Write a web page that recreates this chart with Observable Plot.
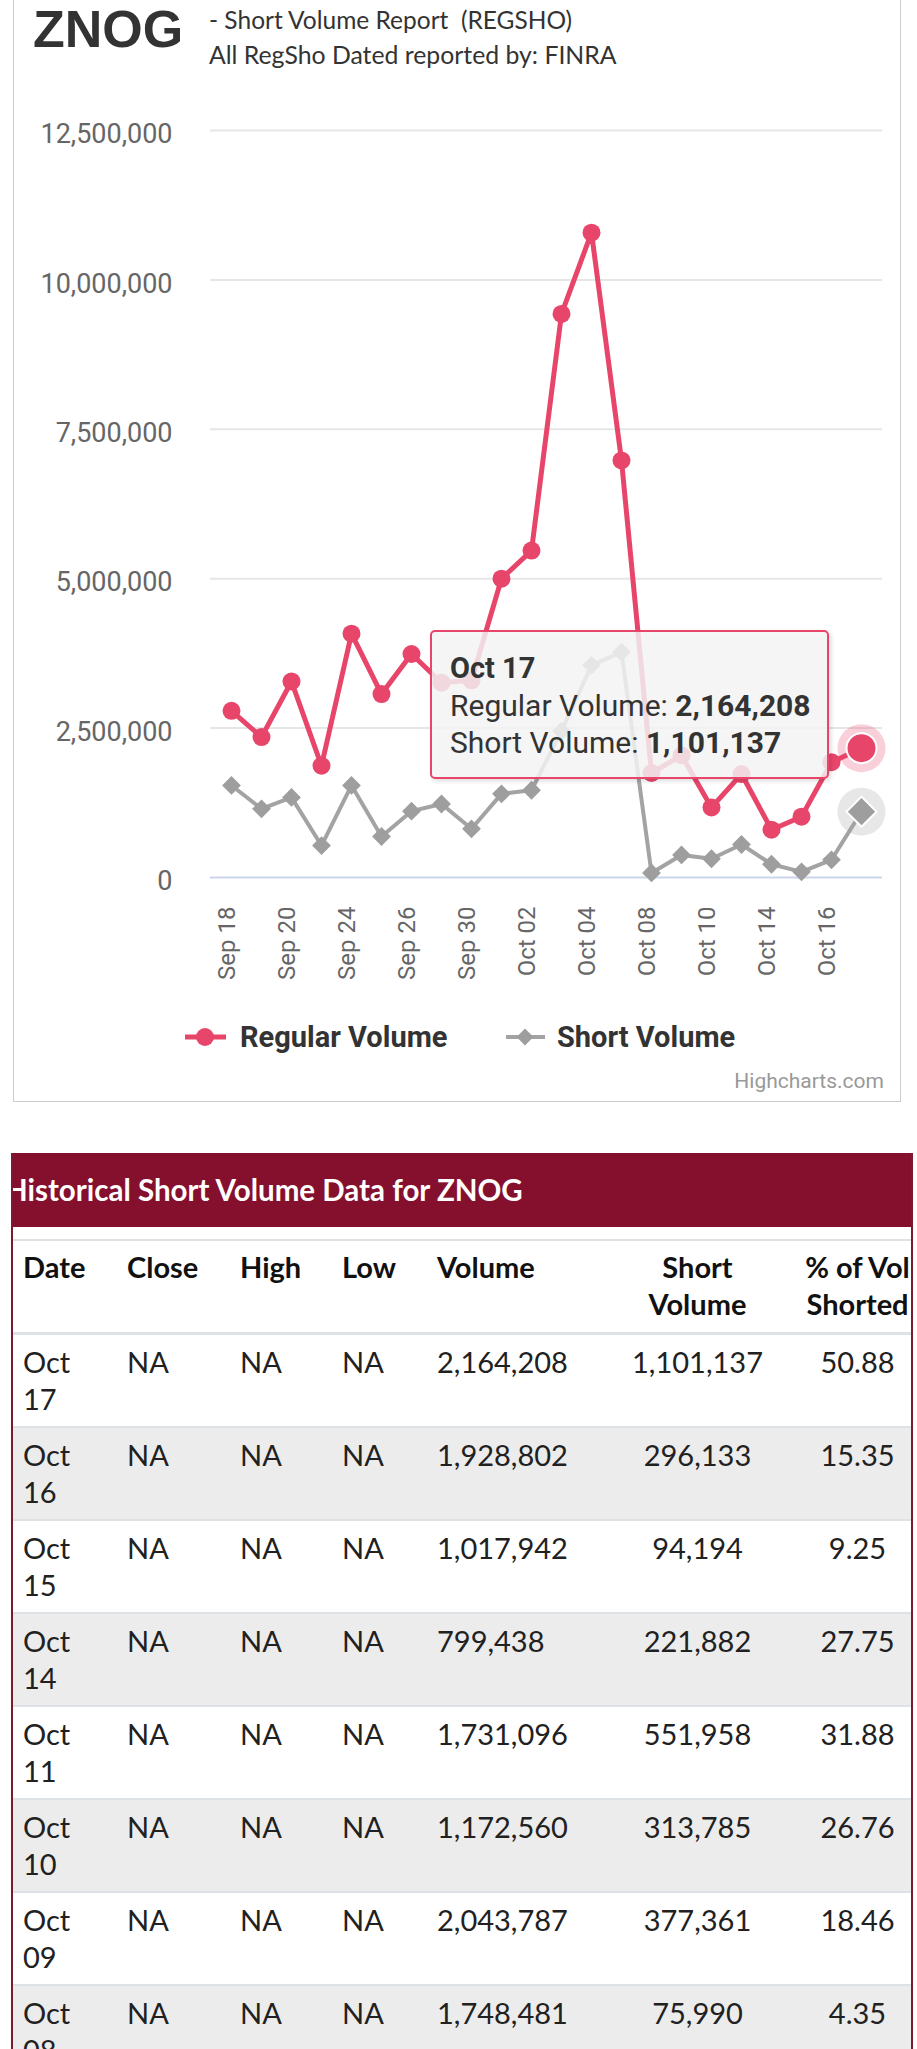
<!DOCTYPE html>
<html>
<head>
<meta charset="utf-8">
<script src="https://cdn.jsdelivr.net/npm/d3@7"></script>
<script src="https://cdn.jsdelivr.net/npm/@observablehq/plot@0.6"></script>
<style>
  html, body { margin: 0; padding: 0; background: #fff; }
  body { width: 917px; height: 2049px; position: relative; overflow: hidden; font-family: Roboto, sans-serif; }
  #chartbox { position: absolute; left: 13px; top: -10px; width: 888px; height: 1112px; border: 1.5px solid #cccccc; box-sizing: border-box; }
  #plot { position: absolute; left: 0; top: 100px; }
  #overlay { position: absolute; left: 0; top: 0; pointer-events: none; }
  #tablewrap { position: absolute; left: 11px; top: 1153px; width: 902px; height: 900px; overflow: hidden;
               border-left: 2px solid #7d1a31; border-right: 2px solid #7d1a31; box-sizing: border-box; }
  #tabletitle { height: 74px; background: #85102e; color: #fff; font-family: Lato, sans-serif; font-weight: 700;
                font-size: 29.5px; line-height: 74px; white-space: nowrap; text-indent: -8px; }
  table { border-collapse: separate; border-spacing: 0; table-layout: fixed; width: 927px; margin-top: 12px;
          font-family: Lato, sans-serif; font-size: 29px; line-height: 37px; color: #212121; }
  th { font-weight: 700; color: #111; text-align: left; vertical-align: top; padding: 7px 10px 10px 10px;
       border-top: 2px solid #dee2e6; border-bottom: 3px solid #dee2e6; white-space: nowrap; }
  td { vertical-align: top; padding: 8px 10px 9px 10px; border-bottom: 2px solid #dee2e6; white-space: nowrap; }
  .c { text-align: center; }
  tbody tr:nth-child(even) td { background: #ececec; }
</style>
</head>
<body>
<div id="chartbox"></div>
<div id="plot"></div>
<svg id="overlay" width="917" height="1110"></svg>
<div id="tablewrap">
  <div id="tabletitle"></div>
  <table id="tbl"></table>
</div>
<script>
// ---------- data ----------
const dates = ["Sep 18","Sep 19","Sep 20","Sep 23","Sep 24","Sep 25","Sep 26","Sep 27","Sep 30",
               "Oct 01","Oct 02","Oct 03","Oct 04","Oct 07","Oct 08","Oct 09","Oct 10","Oct 11",
               "Oct 14","Oct 15","Oct 16","Oct 17"];
const regularVolume = [2790000,2350000,3280000,1870000,4080000,3070000,3740000,3260000,3300000,
                       5000000,5470000,9430000,10790000,6980000,1748481,2043787,1172560,1731096,
                       799438,1017942,1928802,2164208];
const shortVolume = [1540000,1150000,1340000,535000,1540000,686000,1110000,1230000,815000,
                     1400000,1460000,2450000,3550000,3770000,75990,377361,313785,551958,
                     221882,94194,296133,1101137];
const yTicks = [0,2500000,5000000,7500000,10000000,12500000];
const xTickLabels = ["Sep 18","Sep 20","Sep 24","Sep 26","Sep 30","Oct 02","Oct 04","Oct 08","Oct 10","Oct 14","Oct 16"];
const seriesNames = ["Regular Volume","Short Volume"];

const tableTitle = "Historical Short Volume Data for ZNOG";
const tableHeaders = ["Date","Close","High","Low","Volume","Short Volume","% of Vol Shorted"];
const tableDates = ["Oct 17","Oct 16","Oct 15","Oct 14","Oct 11","Oct 10","Oct 09","Oct 08"];
const tableClose = ["NA","NA","NA","NA","NA","NA","NA","NA"];
const tableHigh = ["NA","NA","NA","NA","NA","NA","NA","NA"];
const tableLow = ["NA","NA","NA","NA","NA","NA","NA","NA"];
const tableVolume = [2164208,1928802,1017942,799438,1731096,1172560,2043787,1748481];
const tableShort = [1101137,296133,94194,221882,551958,313785,377361,75990];
const tablePct = ["50.88","15.35","9.25","27.75","31.88","26.76","18.46","4.35"];

const RED = "#e8456b", GREY = "#a3a3a3";

// ---------- chart ----------
const data = dates.map((d, i) => ({date: d, regular: regularVolume[i], short: shortVolume[i]}));
const last = data[data.length - 1];
const fmt = d3.format(",");

const chart = Plot.plot({
  width: 917, height: 900,
  marginLeft: 210, marginRight: 35, marginTop: 30, marginBottom: 123,
  style: {fontFamily: "Roboto, sans-serif", background: "transparent", overflow: "visible"},
  x: {type: "point", domain: dates, padding: 0.5, axis: null, label: null},
  y: {domain: [0, 12500000], axis: null, label: null},
  marks: [
    Plot.ruleY(yTicks.filter(d => d > 0), {y: d => d, stroke: "#e6e6e6", strokeWidth: 2}),
    Plot.ruleY([0], {stroke: "#ccd6eb", strokeWidth: 2}),
    Plot.axisY(yTicks, {tickSize: 0, tickPadding: 38, tickFormat: fmt, fontSize: 27, color: "#666", dy: 4, label: null}),
    Plot.axisX(xTickLabels, {tickSize: 0, tickRotate: -90, tickPadding: 29, fontSize: 24, color: "#666", dx: -4, label: null}),
    Plot.line(data, {x: "date", y: "regular", stroke: RED, strokeWidth: 5, strokeLinejoin: "round"}),
    Plot.dot(data.slice(0, -1), {x: "date", y: "regular", r: 9, fill: RED}),
    Plot.line(data, {x: "date", y: "short", stroke: GREY, strokeWidth: 4, strokeLinejoin: "round"}),
    Plot.dot(data.slice(0, -1), {x: "date", y: "short", symbol: "square", rotate: 45, r: 7.5, fill: "#9e9e9e"}),
    // hovered last point
    Plot.dot([last], {x: "date", y: "regular", r: 24, fill: RED, fillOpacity: 0.25}),
    Plot.dot([last], {x: "date", y: "regular", r: 15, fill: RED, stroke: "#fff", strokeWidth: 2}),
    Plot.dot([last], {x: "date", y: "short", r: 24, fill: "#a0a0a0", fillOpacity: 0.25}),
    Plot.dot([last], {x: "date", y: "short", symbol: "square", rotate: 45, r: 12, fill: "#9e9e9e", stroke: "#fff", strokeWidth: 2})
  ]
});
document.getElementById("plot").appendChild(chart);

// ---------- overlay texts: title, legend, credits, tooltip ----------
const svg = d3.select("#overlay");
svg.append("text").attr("x", 33).attr("y", 47).attr("font-family", "'Liberation Sans', Arial, sans-serif")
  .attr("font-weight", 700).attr("font-size", 52).attr("fill", "#333").text("ZNOG");
svg.append("text").attr("x", 209).attr("y", 29).attr("font-family", "Lato, sans-serif").attr("font-size", 24.5)
  .attr("fill", "#333").style("white-space", "pre").text("- Short Volume Report  (REGSHO)");
svg.append("text").attr("x", 209).attr("y", 64).attr("font-family", "Lato, sans-serif").attr("font-size", 24.8)
  .attr("fill", "#333").text("All RegSho Dated reported by: FINRA");

// legend
const lg = svg.append("g").attr("font-family", "Roboto, sans-serif").attr("font-weight", 700).attr("font-size", 29).attr("fill", "#333");
lg.append("line").attr("x1", 185).attr("x2", 226).attr("y1", 1037).attr("y2", 1037).attr("stroke", RED).attr("stroke-width", 5);
lg.append("circle").attr("cx", 205).attr("cy", 1037).attr("r", 9).attr("fill", RED);
lg.append("text").attr("x", 240).attr("y", 1047).text(seriesNames[0]);
lg.append("line").attr("x1", 506).attr("x2", 545).attr("y1", 1037).attr("y2", 1037).attr("stroke", GREY).attr("stroke-width", 4);
lg.append("path").attr("d", d3.symbol(d3.symbolDiamond2, 180)()).attr("transform", "translate(525,1037)").attr("fill", "#9e9e9e");
lg.append("text").attr("x", 557).attr("y", 1047).text(seriesNames[1]);

// credits
svg.append("text").attr("x", 884).attr("y", 1088).attr("text-anchor", "end").attr("font-family", "Roboto, sans-serif")
  .attr("font-size", 21).attr("fill", "#999").text("Highcharts.com");

// tooltip
const defs = svg.append("defs");
const f = defs.append("filter").attr("id", "sh").attr("x", "-10%").attr("y", "-10%").attr("width", "130%").attr("height", "130%");
f.append("feDropShadow").attr("dx", 2).attr("dy", 2).attr("stdDeviation", 2).attr("flood-color", "#000").attr("flood-opacity", 0.15);
const tt = svg.append("g");
tt.append("rect").attr("x", 431).attr("y", 631).attr("width", 397).attr("height", 147).attr("rx", 4)
  .attr("fill", "rgba(247,247,247,0.82)").attr("stroke", RED).attr("stroke-width", 2).attr("filter", "url(#sh)");
const tg = tt.append("g").attr("font-family", "Roboto, sans-serif").attr("font-size", 30).attr("fill", "#333");
tg.append("text").attr("x", 450).attr("y", 678).attr("font-weight", 700).attr("font-size", 29).text(last.date);
const l1 = tg.append("text").attr("x", 450).attr("y", 716);
l1.append("tspan").text(seriesNames[0] + ": ");
l1.append("tspan").attr("font-weight", 700).text(fmt(last.regular));
const l2 = tg.append("text").attr("x", 450).attr("y", 753);
l2.append("tspan").text(seriesNames[1] + ": ");
l2.append("tspan").attr("font-weight", 700).text(fmt(last.short));

// ---------- table ----------
document.getElementById("tabletitle").textContent = tableTitle;
const tbl = d3.select("#tbl");
const colW = [104, 113, 102, 95, 193, 155, 165];
const cg = tbl.append("colgroup");
colW.forEach(w => cg.append("col").style("width", w + "px"));
const hr = tbl.append("thead").append("tr");
tableHeaders.forEach((h, i) => {
  const th = hr.append("th");
  if (i >= 5) th.attr("class", "c");
  if (h === "Short Volume") th.html("Short<br>Volume");
  else if (h === "% of Vol Shorted") th.html("% of Vol<br>Shorted");
  else th.text(h);
});
const tb = tbl.append("tbody");
tableDates.forEach((d, i) => {
  const tr = tb.append("tr");
  const parts = d.split(" ");
  tr.append("td").html(parts[0] + "<br>" + parts[1]);
  tr.append("td").text(tableClose[i]);
  tr.append("td").text(tableHigh[i]);
  tr.append("td").text(tableLow[i]);
  tr.append("td").text(fmt(tableVolume[i]));
  tr.append("td").attr("class", "c").text(fmt(tableShort[i]));
  tr.append("td").attr("class", "c").text(tablePct[i]);
});
</script>
</body>
</html>
